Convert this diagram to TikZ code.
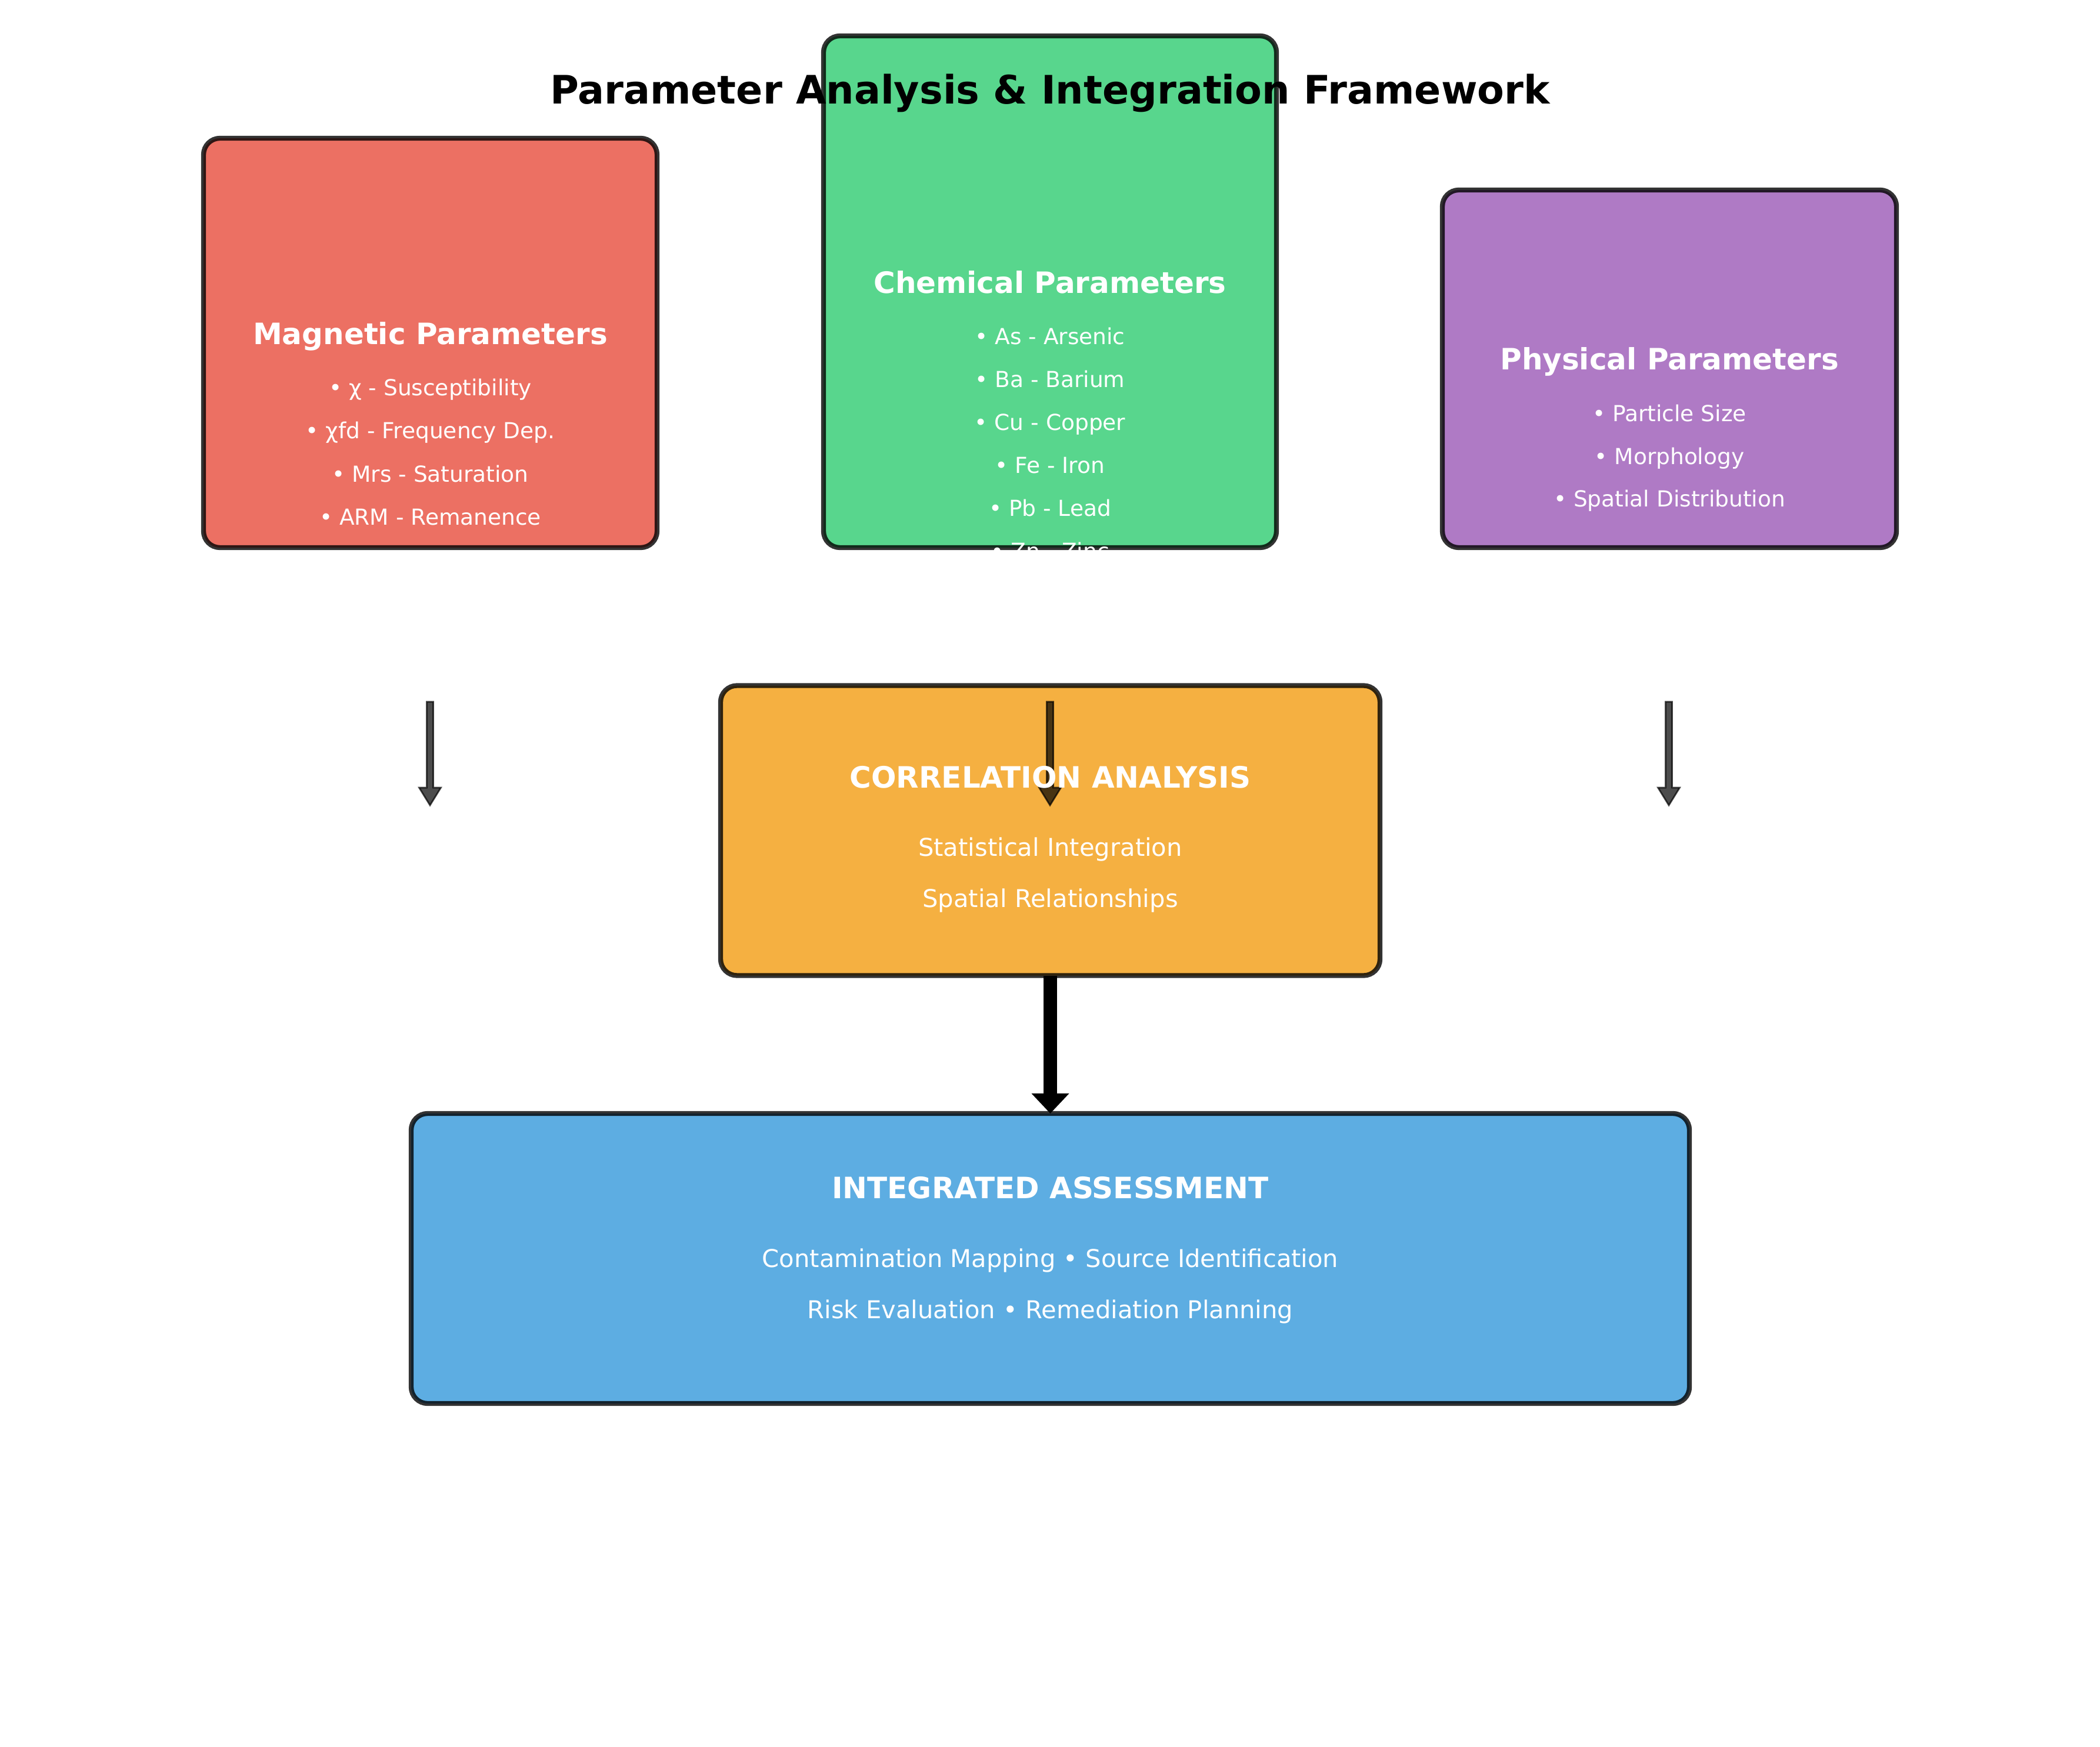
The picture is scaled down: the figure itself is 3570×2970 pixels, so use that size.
\documentclass[tikz,border=0pt]{standalone}
\usepackage{fontspec}
\setmainfont{DejaVu Sans}
\usetikzlibrary{arrows.meta}
\definecolor{cred}{HTML}{E74C3C}
\definecolor{cgreen}{HTML}{2ECC71}
\definecolor{cpurple}{HTML}{9B59B6}
\definecolor{corange}{HTML}{F39C12}
\definecolor{cblue}{HTML}{3498DB}
\begin{document}
\begin{tikzpicture}[x=0.24pt,y=-0.24pt,
  box/.style={draw=black, draw opacity=0.8, fill opacity=0.8, line width=2pt,
    rounded corners=6.7pt, inner sep=0pt, outer sep=0pt},
  txt/.style={text=white, inner sep=0pt, outer sep=0pt, text height=#1, text depth=0pt, anchor=center},
  ttlstyle/.style={txt=11.66pt, text=black, font=\fontsize{16}{19}\selectfont\bfseries},
  hd/.style={txt=8.75pt, font=\fontsize{12}{14}\selectfont\bfseries},
  item/.style={txt=6.56pt, font=\fontsize{9}{11}\selectfont},
  sub/.style={txt=7.29pt, font=\fontsize{10}{12}\selectfont},
  fancyarr/.style={fill=black, draw=black, opacity=0.7, line width=0.65pt, line join=miter},
  bigarr/.style={draw=black, line width=5.3pt, -{Triangle[length=8.2pt,width=14.9pt]}}]
\useasboundingbox (0,0) rectangle (3570,2970);

% boxes
\node[box, fill=cred, minimum width=771*0.24pt, minimum height=696*0.24pt] (mag) at (731.5,583) {};
\node[box, fill=cgreen, minimum width=770*0.24pt, minimum height=870*0.24pt] (chem) at (1785,496) {};
\node[box, fill=cpurple, minimum width=772*0.24pt, minimum height=608*0.24pt] (phys) at (2838,627) {};
\node[box, fill=corange, minimum width=1121*0.24pt, minimum height=493*0.24pt] (corr) at (1785.5,1412) {};
\node[box, fill=cblue, minimum width=2173*0.24pt, minimum height=493*0.24pt] (integ) at (1785.5,2139.5) {};

% small arrows
\coordinate (a1) at (731,1193);
\coordinate (a2) at (1785,1193);
\coordinate (a3) at (2837,1193);
\foreach \c in {a1,a2,a3}{
  \draw[fancyarr, shift={(\c)}] (-5.5,0) -- (5.5,0) -- (5.5,146) -- (18.5,146) -- (0,176) -- (-18.5,146) -- (-5.5,146) -- cycle;
}

% big arrow
\draw[bigarr] (corr.south) -- (integ.north);

% title
\node[ttlstyle] (ttl) at (1785,152) {Parameter Analysis \& Integration Framework};

% magnetic texts
\node[hd] (magh) at (731.5,567) {Magnetic Parameters};
\node[item] (m1) at (731.5,659) {• χ - Susceptibility};
\node[item] (m2) at (731.5,732) {• χfd - Frequency Dep.};
\node[item] (m3) at (731.5,806) {• Mrs - Saturation};
\node[item] (m4) at (731.5,879) {• ARM - Remanence};

% chemical texts
\node[hd] (chemh) at (1785,480) {Chemical Parameters};
\node[item] (c1) at (1785,572) {• As - Arsenic};
\node[item] (c2) at (1785,645) {• Ba - Barium};
\node[item] (c3) at (1785,718) {• Cu - Copper};
\node[item] (c4) at (1785,791) {• Fe - Iron};
\node[item] (c5) at (1785,864) {• Pb - Lead};
\node[item] (c6) at (1785,937) {• Zn - Zinc};

% physical texts
\node[hd] (physh) at (2838,610) {Physical Parameters};
\node[item] (p1) at (2838,703) {• Particle Size};
\node[item] (p2) at (2838,776) {• Morphology};
\node[item] (p3) at (2838,848) {• Spatial Distribution};

% correlation texts
\node[hd] (corrh) at (1785.5,1321) {CORRELATION ANALYSIS};
\node[sub] (r1) at (1785.5,1440) {Statistical Integration};
\node[sub] (r2) at (1785.5,1527) {Spatial Relationships};

% integrated texts
\node[hd] (integh) at (1785.5,2019) {INTEGRATED ASSESSMENT};
\node[sub] (i1) at (1785.5,2139) {Contamination Mapping • Source Identification};
\node[sub] (i2) at (1785.5,2226) {Risk Evaluation • Remediation Planning};
\end{tikzpicture}
\end{document}
